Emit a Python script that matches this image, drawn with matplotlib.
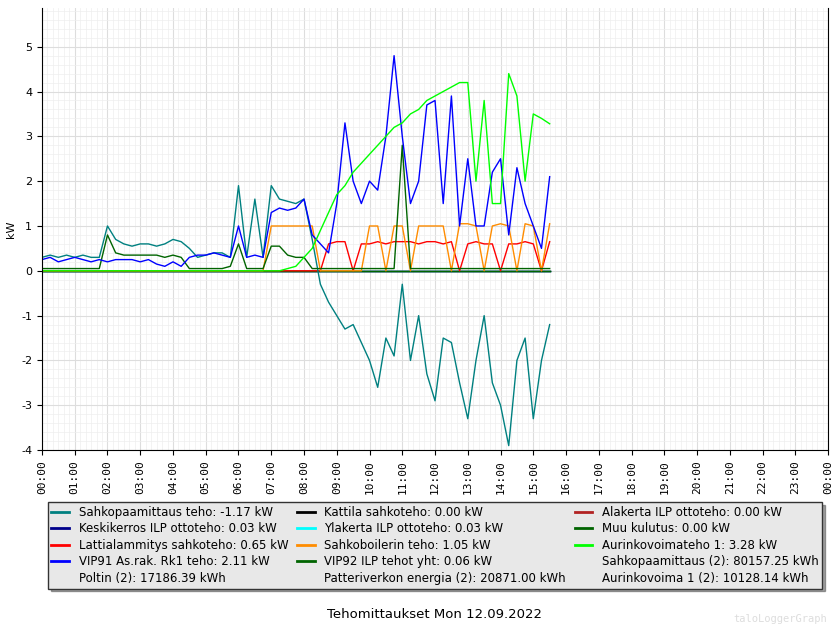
import numpy as np
import matplotlib.pyplot as plt
from matplotlib.lines import Line2D

# aikaleimat 15 min valein, 00:00 - 15:30
t = np.arange(63) * 0.25

sahkopaa = [0.3, 0.35, 0.3, 0.35, 0.3, 0.35, 0.3, 0.3,
            1.0, 0.7, 0.6, 0.55, 0.6, 0.6, 0.55, 0.6,
            0.7, 0.65, 0.5, 0.3, 0.35, 0.4, 0.4, 0.3,
            1.9, 0.3, 1.6, 0.3, 1.9, 1.6, 1.55, 1.5,
            1.6, 0.7, -0.3, -0.7, -1.0, -1.3, -1.2, -1.6,
            -2.0, -2.6, -1.5, -1.9, -0.3, -2.0, -1.0, -2.3,
            -2.9, -1.5, -1.6, -2.5, -3.3, -2.0, -1.0, -2.5,
            -3.0, -3.9, -2.0, -1.5, -3.3, -2.0, -1.2]
vip91 = [0.25, 0.3, 0.2, 0.25, 0.3, 0.25, 0.2, 0.25,
         0.2, 0.25, 0.25, 0.25, 0.2, 0.25, 0.15, 0.1,
         0.2, 0.1, 0.3, 0.35, 0.35, 0.4, 0.35, 0.3,
         1.0, 0.3, 0.35, 0.3, 1.3, 1.4, 1.35, 1.4,
         1.6, 0.8, 0.6, 0.4, 1.5, 3.3, 2.0, 1.5,
         2.0, 1.8, 3.0, 4.8, 3.0, 1.5, 2.0, 3.7,
         3.8, 1.5, 3.9, 1.0, 2.5, 1.0, 1.0, 2.2,
         2.5, 0.8, 2.3, 1.5, 1.0, 0.5, 2.1]
aurinko = [0.0] * 30 + [0.05, 0.1,
           0.3, 0.5, 0.9, 1.3, 1.7, 1.9, 2.2, 2.4,
           2.6, 2.8, 3.0, 3.2, 3.3, 3.5, 3.6, 3.8,
           3.9, 4.0, 4.1, 4.2, 4.2, 2.0, 3.8, 1.5,
           1.5, 4.4, 3.9, 2.0, 3.5, 3.4, 3.28]
boileri = [0.0] * 28 + [1.0, 1.0, 1.0, 1.0, 1.0, 1.0] + [0.0] * 6 + [
           1.0, 1.0, 0.0, 1.0, 1.0, 0.0, 1.0, 1.0,
           1.0, 1.0, 0.0, 1.05, 1.05, 1.0, 0.0, 1.0,
           1.05, 1.0, 0.0, 1.05, 1.0, 0.0, 1.05]
lattia = [0.0] * 35 + [0.6, 0.65, 0.65, 0.0, 0.6,
          0.6, 0.65, 0.6, 0.65, 0.65, 0.65, 0.6, 0.65,
          0.65, 0.6, 0.65, 0.0, 0.6, 0.65, 0.6, 0.6,
          0.0, 0.6, 0.6, 0.65, 0.6, 0.0, 0.65]
vip92 = [0.05] * 8 + [0.8, 0.4, 0.35, 0.35, 0.35, 0.35, 0.35, 0.3,
         0.35, 0.3, 0.05, 0.05, 0.05, 0.05, 0.05, 0.1,
         0.6, 0.05, 0.05, 0.05, 0.55, 0.55, 0.35, 0.3,
         0.3] + [0.05] * 11 + [2.8] + [0.05] * 18
nolla = [0.0] * 63

sarjat = [
    ("Sahkopaamittaus teho: -1.17 kW", "#008080", sahkopaa),
    ("Keskikerros ILP ottoteho: 0.03 kW", "#00008b", nolla),
    ("Lattialammitys sahkoteho: 0.65 kW", "#ff0000", lattia),
    ("VIP91 As.rak. Rk1 teho: 2.11 kW", "#0000ff", vip91),
    ("Poltin (2): 17186.39 kWh", None, None),
    ("Kattila sahkoteho: 0.00 kW", "#000000", nolla),
    ("Ylakerta ILP ottoteho: 0.03 kW", "#00ffff", nolla),
    ("Sahkoboilerin teho: 1.05 kW", "#ff8c00", boileri),
    ("VIP92 ILP tehot yht: 0.06 kW", "#006400", vip92),
    ("Patteriverkon energia (2): 20871.00 kWh", None, None),
    ("Alakerta ILP ottoteho: 0.00 kW", "#b22222", nolla),
    ("Muu kulutus: 0.00 kW", "#006400", nolla),
    ("Aurinkovoimateho 1: 3.28 kW", "#00ff00", aurinko),
    ("Sahkopaamittaus (2): 80157.25 kWh", None, None),
    ("Aurinkovoima 1 (2): 10128.14 kWh", None, None),
]

fig = plt.figure(figsize=(8.31, 6.26), dpi=100)
ax = fig.add_axes([0.0505, 0.281, 0.946, 0.706])

piirto = ["Kattila", "Alakerta", "Keskikerros", "Ylakerta", "Muu",
          "Lattia", "Sahkoboilerin", "Sahkopaamittaus teho", "VIP92",
          "VIP91", "Aurinkovoimateho"]
for avain in piirto:
    for nimi, vari, arvot in sarjat:
        if arvot is not None and nimi.startswith(avain):
            ax.plot(t, arvot, color=vari, lw=1)

kahvat = []
for nimi, vari, arvot in sarjat:
    if vari is None:
        kahvat.append(Line2D([], [], color="none", label=nimi))
    else:
        kahvat.append(Line2D([], [], color=vari, lw=2, label=nimi))

ax.set_xlim(0, 24)
ax.set_ylim(-4, 5.86)
ax.set_xticks(np.arange(0, 25))
ax.set_xticklabels([f"{h % 24:02d}:00" for h in range(25)], rotation=90,
                   family="DejaVu Sans Mono", fontsize=8)
ax.set_xticks(np.arange(0, 24, 1 / 6), minor=True)
ax.set_yticks(np.arange(-4, 6))
ax.set_yticklabels([str(v) for v in range(-4, 6)], fontsize=8)
ax.set_yticks(np.arange(-4, 5.9, 0.2), minor=True)
ax.grid(which="major", color="#dddddd", lw=0.8)
ax.grid(which="minor", color="#eeeeee", lw=0.5)
ax.set_axisbelow(True)
ax.set_ylabel("kW", fontsize=8)
ax.tick_params(which="minor", length=0)
ax.spines["top"].set_visible(False)

leg = fig.legend(handles=kahvat, ncol=3, loc="upper left",
                 bbox_to_anchor=(0.0505, 0.207, 0.946, 0.0), mode="expand",
                 fontsize=8.5, frameon=True, fancybox=False, shadow=True,
                 handlelength=1.5, handletextpad=0.8, columnspacing=0.5,
                 labelspacing=0.3, borderpad=0.3)
leg.get_frame().set_facecolor("#e8e8e8")
leg.get_frame().set_edgecolor("#333333")

fig.text(0.523, 0.012, "Tehomittaukset Mon 12.09.2022", ha="center", fontsize=9.5)
fig.text(0.995, 0.003, "taloLoggerGraph", ha="right", va="bottom",
         family="DejaVu Sans Mono", fontsize=7.5, color="#dddddd")

fig.savefig("out.png", dpi=100)
